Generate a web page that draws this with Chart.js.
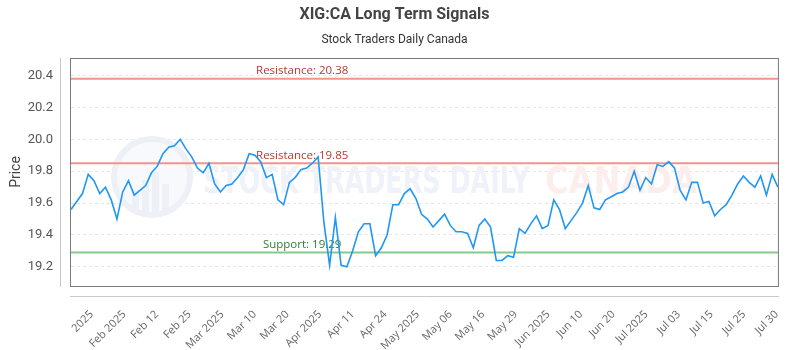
<!DOCTYPE html>
<html>
<head>
<meta charset="utf-8">
<script src="https://cdn.jsdelivr.net/npm/chart.js@4.4.1/dist/chart.umd.min.js"></script>
<style>
  body { margin: 0; background: #fff; }
  #wrap { width: 800px; height: 350px; }
</style>
</head>
<body>
<div id="wrap"><canvas id="signalChart" width="800" height="350"></canvas></div>
<script>
const prices = [
  19.56, 19.61, 19.66, 19.78, 19.74, 19.66, 19.70, 19.62, 19.50, 19.67,
  19.74, 19.65, 19.68, 19.71, 19.79, 19.83, 19.91, 19.95, 19.96, 20.00,
  19.94, 19.89, 19.82, 19.79, 19.85, 19.72, 19.67, 19.71, 19.72, 19.76,
  19.81, 19.91, 19.90, 19.86, 19.76, 19.78, 19.62, 19.59, 19.73, 19.76,
  19.81, 19.82, 19.85, 19.89, 19.48, 19.21, 19.51, 19.21, 19.20, 19.30,
  19.42, 19.47, 19.47, 19.27, 19.32, 19.40, 19.59, 19.59, 19.66, 19.69,
  19.63, 19.53, 19.50, 19.45, 19.49, 19.53, 19.46, 19.42, 19.42, 19.41,
  19.32, 19.46, 19.50, 19.45, 19.24, 19.24, 19.27, 19.26, 19.44, 19.41,
  19.47, 19.52, 19.44, 19.46, 19.62, 19.56, 19.44, 19.49, 19.54, 19.60,
  19.71, 19.57, 19.56, 19.62, 19.64, 19.66, 19.67, 19.70, 19.80, 19.68,
  19.76, 19.72, 19.84, 19.83, 19.86, 19.82, 19.68, 19.62, 19.73, 19.73,
  19.60, 19.61, 19.52, 19.56, 19.59, 19.65, 19.72, 19.77, 19.73, 19.70,
  19.77, 19.65, 19.78, 19.70
];

const tickLabels = ['2025', 'Feb 2025', 'Feb 12', 'Feb 25', 'Mar 2025', 'Mar 10', 'Mar 20',
  'Apr 2025', 'Apr 11', 'Apr 24', 'May 2025', 'May 06', 'May 16', 'May 29', 'Jun 2025',
  'Jun 10', 'Jun 20', 'Jul 2025', 'Jul 03', 'Jul 15', 'Jul 25', 'Jul 30'];
// where each label sits, in data-point index units
const tickIndex = [3.6, 9.28, 14.95, 20.63, 26.3, 31.98, 37.65, 43.33, 49.0, 54.68, 60.35,
  66.03, 71.7, 77.38, 83.05, 88.73, 94.4, 100.08, 105.75, 111.43, 117.1, 122.78];

const levelNames = ['Resistance', 'Resistance', 'Support'];
const levelValues = [20.38, 19.85, 19.29];

const levelColors = { Resistance: ['#f1958c', '#b8392e'], Support: ['#86c98a', '#2f7d32'] };

const framePlugin = {
  id: 'frame',
  beforeDatasetsDraw(chart) {
    const { ctx, chartArea: a, scales } = chart;
    ctx.save();

    // watermark logo
    ctx.strokeStyle = '#edf1f7';
    ctx.fillStyle = '#f8f9fc';
    ctx.lineWidth = 6;
    ctx.beginPath();
    ctx.arc(152, 177, 38, 0, Math.PI * 2);
    ctx.fill();
    ctx.stroke();
    ctx.fillStyle = '#edf1f7';
    [[132, 190, 7, 22], [142, 180, 7, 32], [152, 172, 7, 40], [162, 184, 7, 28]].forEach(b => ctx.fillRect(b[0], b[1], b[2], b[3]));

    // watermark text
    ctx.textBaseline = 'alphabetic';
    ctx.textAlign = 'left';
    ctx.font = 'bold 38px "DejaVu Sans Condensed", "DejaVu Sans"';
    const drawFit = (txt, x, w, color) => {
      const mw = ctx.measureText(txt).width;
      ctx.save();
      ctx.translate(x, 193);
      ctx.scale(w / mw, 1);
      ctx.fillStyle = color;
      ctx.fillText(txt, 0, 0);
      ctx.restore();
    };
    drawFit('STOCK TRADERS DAILY', 203, 327, '#eff2f8');
    drawFit('CANADA', 545, 152, '#fdeeee');

    // support / resistance levels
    ctx.font = '11.5px "Open Sans"';
    ctx.textAlign = 'center';
    ctx.textBaseline = 'bottom';
    const labelX = a.left + (a.right - a.left) * 0.327;
    levelValues.forEach((v, i) => {
      const y = scales.y.getPixelForValue(v);
      const c = levelColors[levelNames[i]];
      ctx.strokeStyle = c[0];
      ctx.lineWidth = 2;
      ctx.beginPath();
      ctx.moveTo(a.left, y);
      ctx.lineTo(a.right, y);
      ctx.stroke();
      ctx.fillStyle = c[1];
      ctx.fillText(levelNames[i] + ': ' + v.toFixed(2), labelX, y - 2);
    });
    ctx.restore();
  },
  afterDraw(chart) {
    const { ctx, chartArea: a } = chart;
    ctx.save();
    ctx.strokeStyle = '#7a7a7a';
    ctx.lineWidth = 1;
    ctx.strokeRect(a.left - 0.5, a.top + 0.5, a.right - a.left + 1, a.bottom - a.top);
    ctx.strokeStyle = '#c8c8c8';
    ctx.beginPath();
    ctx.moveTo(a.left - 10.5, a.top);
    ctx.lineTo(a.left - 10.5, a.bottom + 1);
    ctx.moveTo(a.left - 1, a.bottom + 10.5);
    ctx.lineTo(a.right + 1, a.bottom + 10.5);
    ctx.stroke();
    ctx.restore();
  }
};

new Chart(document.getElementById('signalChart'), {
  type: 'line',
  data: {
    datasets: [{
      data: prices.map((p, i) => ({ x: i, y: p })),
      borderColor: '#2196f3',
      borderWidth: 1.6,
      pointRadius: 0,
      tension: 0,
      fill: false
    }]
  },
  options: {
    responsive: false,
    animation: false,
    layout: { padding: { left: 0, right: 11, top: 0, bottom: 0 } },
    plugins: {
      legend: { display: false },
      tooltip: { enabled: false },
      title: {
        display: true,
        text: 'XIG:CA Long Term Signals',
        color: '#444',
        font: { family: 'Roboto', size: 16, weight: 'bold' },
        padding: { top: 5, bottom: 5 }
      },
      subtitle: {
        display: true,
        text: 'Stock Traders Daily Canada',
        color: '#333',
        font: { family: 'Roboto', size: 12 },
        padding: { top: 3.6, bottom: 10.8 }
      }
    },
    scales: {
      x: {
        type: 'linear',
        min: 0,
        max: prices.length - 1,
        grid: { display: false },
        border: { display: false },
        afterBuildTicks: s => { s.ticks = tickIndex.map(v => ({ value: v })); },
        afterFit: s => { s.height = 64; },
        ticks: {
          autoSkip: false,
          minRotation: 45,
          maxRotation: 45,
          padding: 14,
          color: '#666',
          font: { family: 'Open Sans', size: 11 },
          callback: (v, i) => tickLabels[i]
        }
      },
      y: {
        min: 19.08,
        max: 20.51,
        afterFit: s => { s.width = 71; },
        grid: { color: '#e6e6e6', drawTicks: false },
        border: { display: false, dash: [3, 3] },
        title: {
          display: true,
          text: 'Price',
          color: '#444',
          font: { family: 'Roboto', size: 14 },
          padding: { top: 8, bottom: 0 }
        },
        ticks: {
          stepSize: 0.2,
          includeBounds: false,
          padding: 18,
          color: '#555',
          font: { family: 'Roboto', size: 13 },
          callback: v => v.toFixed(1)
        }
      }
    }
  },
  plugins: [framePlugin]
});
</script>
</body>
</html>
